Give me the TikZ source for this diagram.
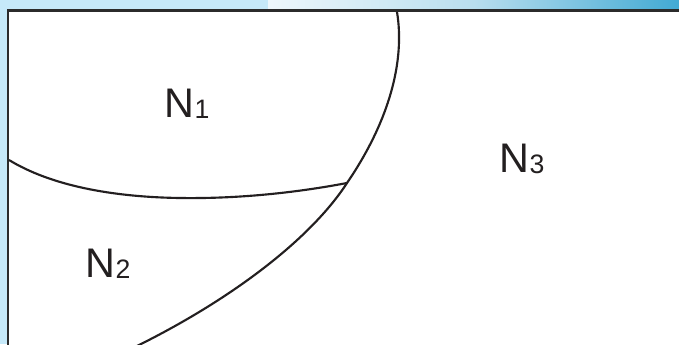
\documentclass[tikz,border=0pt]{standalone}
\usepackage{fontspec}
\setmainfont{Liberation Sans}
\usetikzlibrary{positioning}
\definecolor{nrink}{HTML}{231F20}
\definecolor{nrframe}{HTML}{2B2B2B}
\definecolor{nrsky}{HTML}{C6E9F9}
\definecolor{nrpale}{HTML}{EEF7FC}
\definecolor{nrmid}{HTML}{B9DEEE}
\definecolor{nrdeep}{HTML}{42AAD4}
\newcommand{\nrsub}[1]{N\raisebox{-1pt}{\fontsize{20}{20}\selectfont #1}}
\tikzset{
  nr frame/.style={draw=nrframe, line width=2pt, fill=white},
  nr edge/.style={draw=nrink, line width=1.6pt},
  nr label/.style={font=\fontsize{31}{31}\selectfont, text=nrink, anchor=base, inner sep=0pt}
}

\begin{document}
\begin{tikzpicture}[x=0.75pt, y=-0.75pt]
  \useasboundingbox (0,0) rectangle (679,344);
  \fill[nrsky] (0,0) rectangle (679,344);
  \shade[left color=nrpale, right color=nrdeep, middle color=nrmid] (268,0) rectangle (679,11);
  % the set and its three parts
  \path[nr frame] (690,355) -- (8,355) -- (8,10.7) -- (690,10.7);
  \coordinate (top) at (397,12);
  \coordinate (meet) at (347,183);
  \coordinate (base) at (137,346);
  \coordinate (side) at (9,160);
  \draw[nr edge] (top) .. controls (405,60) and (390,120) .. (meet)
    .. controls (310,240) and (230,300) .. (base);
  \draw[nr edge] (side) .. controls (50,185) and (110,197) .. (180,198)
    .. controls (250,199) and (310,190) .. (meet);
  \node[nr label] (n1) at (187,117) {\nrsub{1}};
  \node[nr label] (n2) at (108,277) {\nrsub{2}};
  \node[nr label] (n3) at (522,172) {\nrsub{3}};
\end{tikzpicture}
\end{document}
